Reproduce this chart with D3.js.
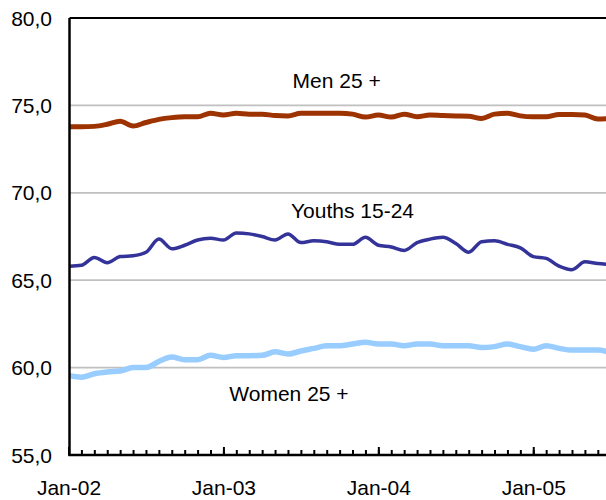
<!DOCTYPE html>
<html><head><meta charset="utf-8">
<script src="https://cdn.jsdelivr.net/npm/d3@7"></script>
<style>
body{margin:0;background:#fff;}
svg{display:block;font-family:"Liberation Sans",Arial,sans-serif;}
</style></head>
<body><svg id="c" width="606" height="500"></svg>
<script>
const months = ["Jan-02","Feb-02","Mar-02","Apr-02","May-02","Jun-02","Jul-02","Aug-02","Sep-02","Oct-02","Nov-02","Dec-02",
"Jan-03","Feb-03","Mar-03","Apr-03","May-03","Jun-03","Jul-03","Aug-03","Sep-03","Oct-03","Nov-03","Dec-03",
"Jan-04","Feb-04","Mar-04","Apr-04","May-04","Jun-04","Jul-04","Aug-04","Sep-04","Oct-04","Nov-04","Dec-04",
"Jan-05","Feb-05","Mar-05","Apr-05","May-05","Jun-05","Jul-05"];
const men25 = [73.78,73.78,73.8,73.92,74.1,73.82,74.02,74.2,74.3,74.35,74.35,74.55,
74.45,74.55,74.5,74.5,74.42,74.4,74.55,74.55,74.55,74.55,74.5,74.33,
74.45,74.33,74.5,74.35,74.45,74.42,74.4,74.38,74.25,74.5,74.55,74.4,
74.35,74.35,74.48,74.48,74.45,74.22,74.26];
const youths = [65.8,65.85,66.3,66.0,66.35,66.4,66.6,67.35,66.8,67.0,67.3,67.4,
67.3,67.7,67.65,67.5,67.3,67.65,67.15,67.25,67.2,67.05,67.05,67.45,
67.0,66.9,66.7,67.15,67.35,67.45,67.1,66.6,67.2,67.25,67.05,66.85,
66.35,66.25,65.8,65.6,66.05,65.95,65.9];
const women25 = [59.55,59.45,59.65,59.75,59.8,60.0,60.0,60.35,60.6,60.45,60.45,60.7,
60.58,60.68,60.68,60.7,60.9,60.78,60.95,61.1,61.25,61.25,61.35,61.45,
61.35,61.35,61.25,61.35,61.35,61.25,61.25,61.25,61.15,61.2,61.35,61.2,
61.05,61.25,61.1,61.0,61.0,61.0,60.85];
const yTicks = [55,60,65,70,75,80];
const yTickLabels = ["55,0","60,0","65,0","70,0","75,0","80,0"];
const seriesNames = ["Men 25 +","Youths 15-24","Women 25 +"];

(function(){
const svg = d3.select("#c");
const pL = 69.5, pT = 18, pB = 455;
const x = d3.scalePoint().domain(months).range([68.5, 68.5 + 12.91*(months.length-1)]);
const y = d3.scaleLinear().domain([55,80]).range([pB, pT]);

svg.append("defs").append("clipPath").attr("id","clip")
  .append("rect").attr("x",pL).attr("y",pT).attr("width",606-pL).attr("height",pB-pT);

svg.append("g").selectAll("line").data(yTicks.filter(v=>v>55 && v<80)).join("line")
  .attr("x1",pL).attr("x2",606).attr("y1",d=>y(d)).attr("y2",d=>y(d))
  .attr("stroke","#c0c0c0").attr("stroke-width",1.8);

svg.append("g").selectAll("text").data(yTicks).join("text")
  .attr("x",52).attr("y",d=>y(d)).attr("dy","0.36em").attr("text-anchor","end")
  .attr("font-size",21).attr("fill","#000").text((d,i)=>yTickLabels[i]);

const line = d3.line().x((d,i)=>x(months[i])).y(d=>y(d)).curve(d3.curveMonotoneX);
const g = svg.append("g").attr("clip-path","url(#clip)");
const series = [
  {v:men25, c:"#9c3300", w:5},
  {v:youths, c:"#333399", w:3.5},
  {v:women25, c:"#99ccff", w:5.5}
];
series.forEach(s=>{
  g.append("path").attr("d",line(s.v)).attr("fill","none").attr("stroke",s.c)
   .attr("stroke-width",s.w).attr("stroke-linejoin","round").attr("stroke-linecap","round");
});

svg.append("line").attr("x1",pL).attr("x2",606).attr("y1",pT).attr("y2",pT).attr("stroke","#000").attr("stroke-width",2);
svg.append("line").attr("x1",pL).attr("x2",pL).attr("y1",pT).attr("y2",pB+1).attr("stroke","#000").attr("stroke-width",2.5);

const minor = d3.axisBottom(x).tickValues(months.slice(1)).tickSize(-5).tickFormat("");
const gm = svg.append("g").attr("transform",`translate(0,${pB})`).call(minor);
gm.select(".domain").remove();
gm.selectAll("line").attr("stroke","#000").attr("stroke-width",2);
const majors = months.filter(m=>m.startsWith("Jan"));
const major = d3.axisBottom(x).tickValues(majors).tickSize(-8).tickPadding(0);
const gM = svg.append("g").attr("transform",`translate(0,${pB})`).call(major);
gM.select(".domain").remove();
gM.selectAll("line").attr("stroke","#000").attr("stroke-width",2);
gM.selectAll("text").attr("y",32).attr("dy","0.36em").attr("font-size",21)
  .attr("font-family","'Liberation Sans',Arial,sans-serif").attr("fill","#000");
svg.append("line").attr("x1",pL-1).attr("x2",606).attr("y1",pB).attr("y2",pB).attr("stroke","#000").attr("stroke-width",2.5);

const labels = [
  {t:seriesNames[0], x:months[20], v:76.4, dx:10},
  {t:seriesNames[1], x:months[22], v:69.0, dx:0},
  {t:seriesNames[2], x:months[17], v:58.55, dx:1}
];
svg.append("g").selectAll("text").data(labels).join("text")
  .attr("x",d=>x(d.x)+d.dx)
  .attr("y",d=>y(d.v)).attr("dy","0.36em").attr("text-anchor","middle")
  .attr("font-size",21).attr("fill","#000").text(d=>d.t);
})();
</script></body></html>
